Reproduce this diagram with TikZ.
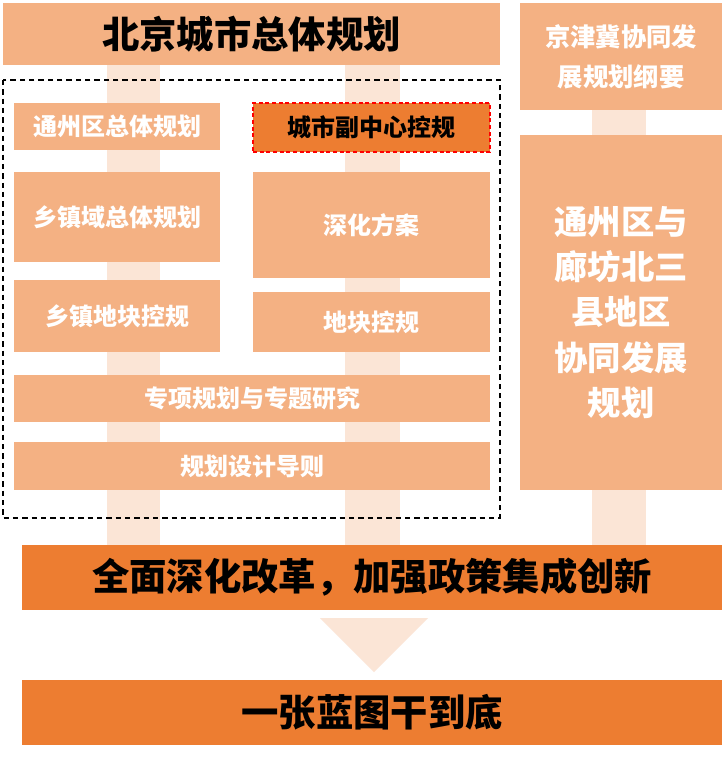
\documentclass[tikz,border=0pt]{standalone}
\usepackage{fontspec}
\setmainfont{Noto Sans CJK SC}
\usetikzlibrary{positioning}
\definecolor{lo}{HTML}{F4B183}
\definecolor{vl}{HTML}{FBE5D6}
\definecolor{dk}{HTML}{ED7D31}
\tikzset{
 box/.style={fill=lo,draw=none,text=white,font=\bfseries\fontsize{18}{22}\selectfont,align=center,inner sep=0pt},
 bar/.style={fill=vl,draw=none},
 big/.style={fill=dk,draw=none,text=black,font=\bfseries\fontsize{28}{32}\selectfont,inner sep=0pt},
}
\newcommand\bx[7]{\node[#6,minimum width={(#4-#2)*0.75pt},minimum height={(#5-#3)*0.75pt}] (#1) at ({(#2+#4)/2},{(#3+#5)/2}) {#7};}
\begin{document}
\begin{tikzpicture}[x=0.75pt,y=-0.75pt]
\useasboundingbox (0,0) rectangle (725,759);
\fill[white] (0,0) rectangle (725,759);
% vertical bars
\fill[bar] (107,65) rectangle (160,545);
\fill[bar] (345,65) rectangle (400,545);
\fill[bar] (592,110) rectangle (646,545);
\bx{top}{3}{3}{500}{65}{box,text=black,font=\bfseries\fontsize{28}{32}\selectfont}{北京城市总体规划}
\bx{jjj}{520}{3}{722}{110}{box,font=\bfseries\fontsize{19}{30}\selectfont}{京津冀协同发\\展规划纲要}
\bx{tzlf}{520}{135}{722}{490}{box,font=\bfseries\fontsize{25}{34}\selectfont}{通州区与\\廊坊北三\\县地区\\协同发展\\规划}
\draw[dash pattern=on 4pt off 3pt,thick] (3,80) rectangle (500,518);
\bx{tzq}{14}{103}{220}{150}{box}{通州区总体规划}
\bx{fzx}{253}{103}{490}{152}{box,fill=dk,text=black,draw=red,dash pattern=on 3pt off 2pt,thick}{城市副中心控规}
\bx{xzy}{14}{172}{220}{262}{box}{乡镇域总体规划}
\bx{shfa}{253}{172}{490}{278}{box}{深化方案}
\bx{xzdk}{14}{280}{220}{352}{box}{乡镇地块控规}
\bx{dkkg}{253}{292}{490}{352}{box}{地块控规}
\bx{zx}{14}{375}{490}{422}{box}{专项规划与专题研究}
\bx{dz}{14}{442}{490}{490}{box}{规划设计导则}
\bx{gg}{22}{545}{722}{610}{big}{全面深化改革，加强政策集成创新}
\bx{lt}{22}{680}{722}{745}{big}{一张蓝图干到底}
\fill[vl] (320,618) -- (428,618) -- (374,672) -- cycle;
\end{tikzpicture}
\end{document}
